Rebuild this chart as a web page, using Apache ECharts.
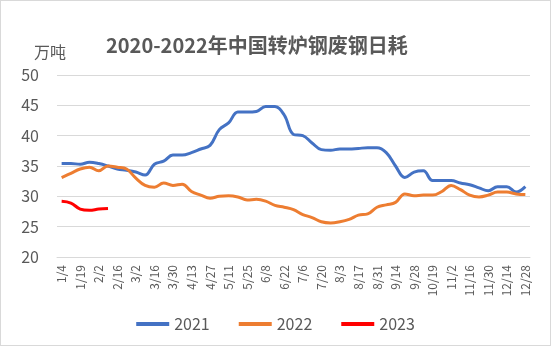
<!DOCTYPE html>
<html><head><meta charset="utf-8">
<script src="https://cdn.jsdelivr.net/npm/echarts@6/dist/echarts.min.js"></script>
<style>html,body{margin:0;padding:0;background:#fff}#c{width:551px;height:346px;box-sizing:border-box;border:1px solid #d9d9d9}</style>
</head><body><div id="c"></div>
<script>
const categories = ['1/4','1/11','1/19','1/26','2/2','2/9','2/16','2/23','3/2','3/9','3/16','3/23','3/30','4/6','4/13','4/20','4/27','5/4','5/11','5/18','5/25','6/1','6/8','6/15','6/22','6/29','7/6','7/13','7/20','7/27','8/3','8/10','8/17','8/24','8/31','9/7','9/14','9/21','9/28','10/12','10/19','10/26','11/2','11/9','11/16','11/23','11/30','12/7','12/14','12/21','12/28'];
const s2021 = [35.4,35.4,35.3,35.6,35.4,35.0,34.5,34.3,34.0,33.5,35.3,35.8,36.8,36.8,37.2,37.8,38.4,41.0,42.1,43.9,43.9,44.0,44.8,44.8,43.4,40.2,40.0,38.8,37.7,37.6,37.8,37.8,37.9,38.0,38.0,37.2,35.0,33.1,34.0,34.2,32.6,32.6,32.6,32.2,31.9,31.4,30.9,31.6,31.6,30.7,31.6];
const s2022 = [33.1,33.8,34.5,34.8,34.2,35.0,34.8,34.5,33.0,31.8,31.5,32.2,31.8,32.0,30.8,30.2,29.7,30.0,30.1,29.9,29.4,29.5,29.2,28.5,28.2,27.8,27.0,26.5,25.8,25.6,25.8,26.2,26.9,27.1,28.2,28.6,29.0,30.4,30.1,30.2,30.2,30.8,31.8,31.1,30.2,29.9,30.2,30.7,30.7,30.4,30.3];
const s2023 = [29.2,28.9,27.9,27.7,27.9,28.0];
const yTicks = [20,25,30,35,40,45,50];
const chart = echarts.init(document.getElementById('c'));
const txt = '#595959';
const ff = '"Microsoft YaHei","Noto Sans CJK SC",sans-serif';
chart.setOption({
  animation:false,
  textStyle:{fontFamily:ff},
  title:{text:'2020-2022年中国转炉钢废钢日耗',left:100,top:29,textStyle:{fontSize:20,fontWeight:'bold',color:txt,fontFamily:ff}},
  graphic:[{type:'text',left:33,top:43,style:{text:'万吨',fontSize:16,fill:txt,fontFamily:ff}}],
  legend:{bottom:8,left:'center',itemWidth:33,itemHeight:4,itemGap:29,icon:'rect',textStyle:{fontSize:16,color:txt,fontFamily:ff},data:['2021','2022','2023']},
  grid:{left:56,right:20,top:74,bottom:88},
  xAxis:{type:'category',data:categories,boundaryGap:true,
    axisLine:{lineStyle:{color:'#d9d9d9'}},axisTick:{show:false},
    axisLabel:{rotate:90,interval:1,fontSize:12,color:txt,margin:8}},
  yAxis:{type:'value',min:yTicks[0],max:yTicks[yTicks.length-1],interval:5,
    axisLine:{show:false},axisTick:{show:false},
    splitLine:{lineStyle:{color:'#d9d9d9'}},
    axisLabel:{fontSize:16,color:txt,margin:18}},
  series:[
    {name:'2021',type:'line',data:s2021,smooth:0.4,symbol:'none',lineStyle:{width:3,color:'#4472C4'},itemStyle:{color:'#4472C4'}},
    {name:'2022',type:'line',data:s2022,smooth:0.4,symbol:'none',lineStyle:{width:3,color:'#ED7D31'},itemStyle:{color:'#ED7D31'}},
    {name:'2023',type:'line',data:s2023,smooth:0.4,symbol:'none',lineStyle:{width:3,color:'#FF0000'},itemStyle:{color:'#FF0000'}}
  ]
});
</script></body></html>
